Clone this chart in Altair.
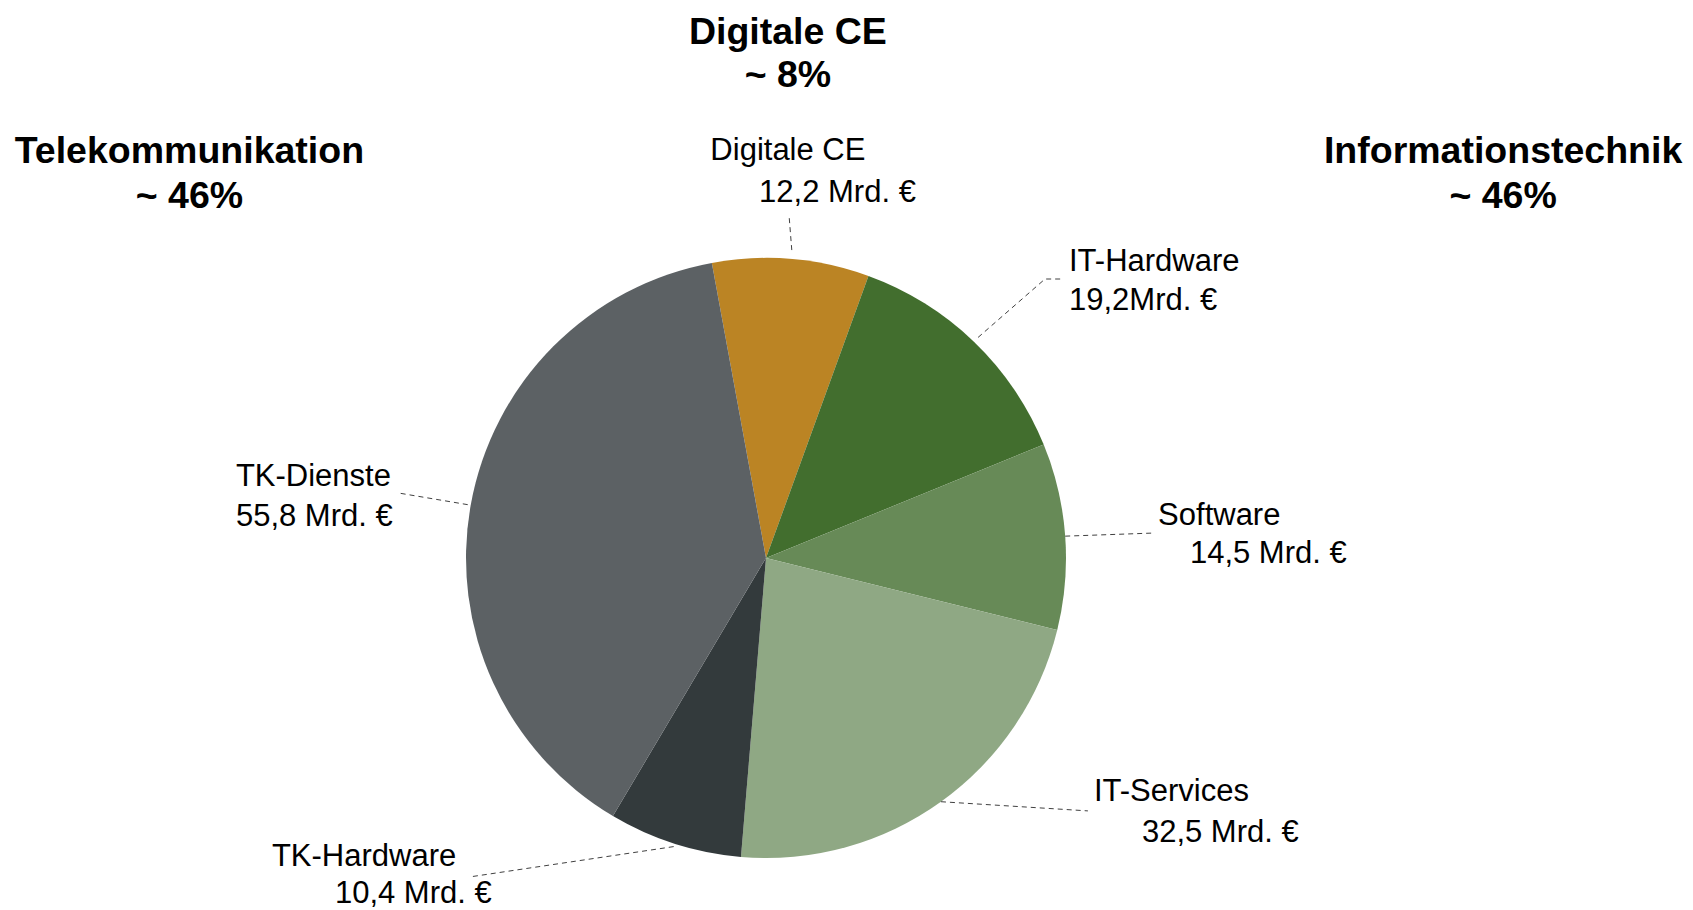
import math
import altair as alt
import pandas as pd

# ---------------- data ----------------
categories = ["Digitale CE", "IT-Hardware", "Software", "IT-Services", "TK-Hardware", "TK-Dienste"]
values = [12.2, 19.2, 14.5, 32.5, 10.4, 55.8]
value_labels = ["12,2 Mrd. €", "19,2Mrd. €", "14,5 Mrd. €", "32,5 Mrd. €", "10,4 Mrd. €", "55,8 Mrd. €"]
group_names = ["Telekommunikation", "Digitale CE", "Informationstechnik"]
group_shares = ["~ 46%", "~ 8%", "~ 46%"]

# ---------------- styles / layout ----------------
colors = ["#BB8424", "#426E2E", "#678A57", "#8FA884", "#333A3C", "#5C6164"]
FONT = "Liberation Sans"
W, H = 1675, 902          # view size (px)
R = 300                   # pie radius (px) == 1 unit
CX, CY = 758, 550         # pie centre inside the view (px)
START_DEG = -10.4         # angle of first slice edge (0 = 12 o'clock, clockwise)

xs = alt.Scale(domain=[-CX / R, (W - CX) / R], nice=False, zero=False)
ys = alt.Scale(domain=[(CY - H) / R, CY / R], nice=False, zero=False)

# label layout in pie-radius units: (name_align, name_u, name_v, value_u, value_v)
label_pos = {
    "Digitale CE": ("center", 0.073, 1.327, -0.023, 1.187),
    "IT-Hardware": ("left", 1.01, 0.957, 1.01, 0.827),
    "Software": ("left", 1.307, 0.11, 1.413, -0.017),
    "IT-Services": ("left", 1.093, -0.81, 1.253, -0.947),
    "TK-Hardware": ("left", -1.647, -1.027, -1.437, -1.15),
    "TK-Dienste": ("left", -1.767, 0.24, -1.767, 0.107),
}
# leader lines: start radius, then extra points (u, v)
leader_pts = {
    "Digitale CE": (1.03, [(0.077, 1.14)]),
    "IT-Hardware": (1.02, [(0.93, 0.93), (0.99, 0.93)]),
    "Software": (1.0, [(1.287, 0.083)]),
    "IT-Services": (1.0, [(1.073, -0.843)]),
    "TK-Hardware": (1.01, [(-0.987, -1.063)]),
    "TK-Dienste": (1.01, [(-1.227, 0.217)]),
}
header_pos = {  # centre u, baseline v line1, baseline v line2
    "Telekommunikation": (-1.922, 1.317, 1.167),
    "Digitale CE": (0.073, 1.715, 1.57),
    "Informationstechnik": (2.457, 1.317, 1.167),
}

# ---------------- tables ----------------
pie_df = pd.DataFrame({"cat": categories, "value": values, "idx": range(len(categories))})

total = sum(values)
start = math.radians(START_DEG)
cum = 0.0
line_rows = []
for c, v in zip(categories, values):
    mid = start + 2 * math.pi * (cum + v / 2) / total
    cum += v
    r0, pts = leader_pts[c]
    seq = [(r0 * math.sin(mid), r0 * math.cos(mid))] + pts
    for i, (u, w) in enumerate(seq):
        line_rows.append({"cat": c, "seq": i, "u": u, "v": w})
line_df = pd.DataFrame(line_rows)

left_rows, center_rows = [], []
for c, vl in zip(categories, value_labels):
    al, nu, nv, vu, vv = label_pos[c]
    (center_rows if al == "center" else left_rows).append({"t": c, "u": nu, "v": nv})
    left_rows.append({"t": vl, "u": vu, "v": vv})
left_df = pd.DataFrame(left_rows)
center_df = pd.DataFrame(center_rows)

head_rows = []
for g, s in zip(group_names, group_shares):
    u, v1, v2 = header_pos[g]
    head_rows.append({"t": g, "u": u, "v": v1})
    head_rows.append({"t": s, "u": u, "v": v2})
head_df = pd.DataFrame(head_rows)

# ---------------- chart ----------------
pie = alt.Chart(pie_df).mark_arc(outerRadius=R).encode(
    x=alt.X(datum=0, type="quantitative", scale=xs, axis=None),
    y=alt.Y(datum=0, type="quantitative", scale=ys, axis=None),
    theta=alt.Theta("value:Q", stack=True,
                    scale=alt.Scale(range=[start, start + 2 * math.pi])),
    color=alt.Color("cat:N", scale=alt.Scale(domain=categories, range=colors), legend=None),
    order=alt.Order("idx:Q"),
)

leaders = alt.Chart(line_df).mark_line(
    color="#404040", strokeWidth=1, strokeDash=[5, 4]
).encode(
    x=alt.X("u:Q", scale=xs, axis=None),
    y=alt.Y("v:Q", scale=ys, axis=None),
    detail="cat:N",
    order="seq:Q",
)

def text_layer(df, align, size, weight):
    return alt.Chart(df).mark_text(
        align=align, baseline="alphabetic", font=FONT, fontSize=size,
        fontWeight=weight, color="#000000"
    ).encode(
        x=alt.X("u:Q", scale=xs, axis=None),
        y=alt.Y("v:Q", scale=ys, axis=None),
        text="t:N",
    )

chart = alt.layer(
    pie, leaders,
    text_layer(left_df, "left", 31, "normal"),
    text_layer(center_df, "center", 31, "normal"),
    text_layer(head_df, "center", 37.5, "bold"),
).properties(
    width=W, height=H, padding=0,
    autosize=alt.AutoSizeParams(type="none"),
).configure_view(stroke=None)

chart.save("out.html", embed_options={"renderer": "svg", "actions": False})
